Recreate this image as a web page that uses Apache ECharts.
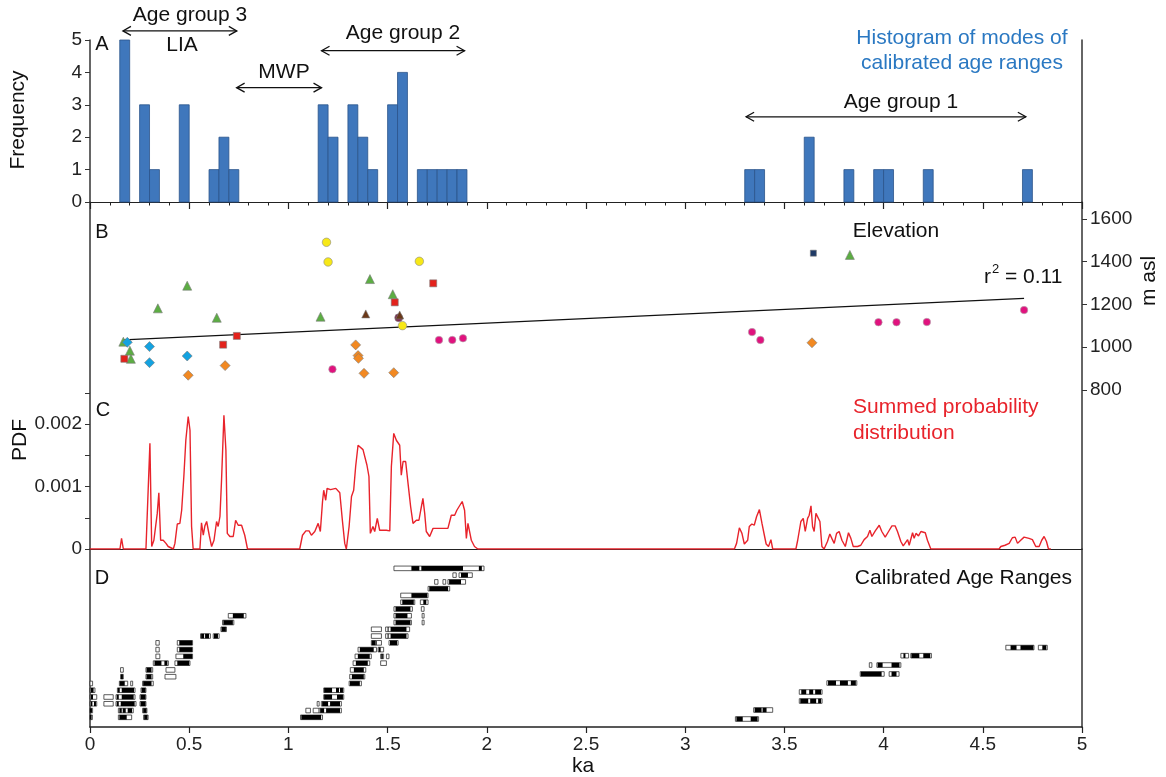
<!DOCTYPE html>
<html>
<head>
<meta charset="utf-8">
<script src="https://cdn.jsdelivr.net/npm/echarts@6/dist/echarts.min.js"></script>
<style>
html,body{margin:0;padding:0;background:#fff;}
#chart{width:1166px;height:777px;}
</style>
</head>
<body>
<div id="chart"></div>
<script>
// ---------------- DATA ----------------
// Panel A: histogram of modes (bin start in ka, 0.05 ka bins)
const binWidth = 0.05;
const histStart = [0.15,0.25,0.30,0.45,0.60,0.65,0.70,1.15,1.20,1.30,1.35,1.40,1.50,1.55,1.65,1.70,1.75,1.80,1.85,3.30,3.35,3.60,3.80,3.95,4.00,4.20,4.70];
const histCount = [5,3,1,3,1,2,1,3,2,3,2,1,3,4,1,1,1,1,1,1,1,2,1,1,1,1,1];

// Age-group arrows in panel A: [from ka, to ka, frequency level]
const arrows = [[0.166,0.74,5.28],[0.739,1.167,3.53],[1.167,1.888,4.67],[3.307,4.717,2.63]];

// Panel B: elevation (ka, m asl)
const greenTri = [[0.168,1026],[0.201,984],[0.206,946],[0.342,1182],[0.49,1288],[0.639,1138],[1.162,1143],[1.411,1319],[1.526,1248],[3.83,1432]];
const brownTri = [[1.39,1156],[1.561,1151]];
const maroonCirc = [[1.556,1138]];
const redSq = [[0.173,946],[0.671,1012],[0.74,1053],[1.536,1210],[1.73,1299]];
const navySq = [[3.646,1440]];
const cyanDia = [[0.188,1023],[0.30,1003],[0.30,928],[0.49,959]];
const orangeDia = [[0.495,869],[0.681,914],[1.339,1011],[1.351,961],[1.353,948],[1.381,878],[1.531,881],[3.639,1021]];
const yellowCirc = [[1.192,1491],[1.20,1399],[1.66,1402],[1.575,1101]];
const magentaCirc = [[1.222,897],[1.759,1034],[1.826,1034],[1.88,1042],[3.337,1071],[3.379,1034],[3.974,1117],[4.065,1117],[4.218,1118],[4.708,1174]];
const trendLine = [[0.168,1034],[4.708,1229]];

// Panel C: summed probability distribution (ka, PDF x 1e-3)
const pdfPoints = [[0,0],[0.151,0],[0.159,0.17],[0.168,0],[0.282,0],[0.302,1.69],[0.311,0.04],[0.322,0.14],[0.339,0.57],[0.347,0.90],[0.356,0.14],[0.369,0.14],[0.383,0.09],[0.394,0.04],[0.42,0],[0.428,0.09],[0.44,0.40],[0.453,0.41],[0.462,0.62],[0.473,1.16],[0.483,1.74],[0.495,2.12],[0.504,1.90],[0.512,0.36],[0.52,0],[0.554,0],[0.562,0.42],[0.571,0.22],[0.579,0.37],[0.588,0.44],[0.601,0.22],[0.613,0.04],[0.625,0.14],[0.638,0.44],[0.646,0.36],[0.655,0.52],[0.663,1.10],[0.675,2.14],[0.685,1.58],[0.692,0.25],[0.705,0.20],[0.722,0.20],[0.734,0.46],[0.747,0.38],[0.764,0.38],[0.78,0.22],[0.794,0],[1.057,0],[1.071,0.22],[1.088,0.29],[1.104,0.29],[1.116,0.22],[1.133,0.28],[1.15,0.41],[1.161,0.28],[1.172,0.76],[1.178,0.94],[1.188,0.78],[1.195,0.97],[1.212,0.95],[1.239,0.97],[1.259,0.90],[1.272,0.46],[1.284,0.09],[1.292,0],[1.306,0.36],[1.318,0.84],[1.329,0.94],[1.339,1.32],[1.351,1.66],[1.376,1.59],[1.396,1.34],[1.406,1.16],[1.413,0.25],[1.426,0.36],[1.435,0.28],[1.448,0.49],[1.46,0.30],[1.494,0.30],[1.511,0.29],[1.519,1.32],[1.531,1.85],[1.544,1.74],[1.561,1.66],[1.569,1.18],[1.578,1.40],[1.591,1.40],[1.603,1.05],[1.616,0.68],[1.628,0.41],[1.645,0.46],[1.658,0.46],[1.667,0.62],[1.678,0.81],[1.687,0.57],[1.695,0.28],[1.712,0.20],[1.729,0.33],[1.762,0.33],[1.804,0.33],[1.821,0.54],[1.838,0.54],[1.849,0.62],[1.876,0.76],[1.888,0.62],[1.897,0.17],[1.905,0.41],[1.913,0.38],[1.922,0.14],[1.938,0.04],[1.955,0],[3.248,0],[3.259,0.09],[3.273,0.34],[3.286,0.25],[3.298,0.08],[3.315,0.14],[3.323,0.36],[3.336,0.40],[3.348,0.38],[3.36,0.52],[3.374,0.63],[3.387,0.41],[3.399,0.22],[3.408,0.08],[3.42,0.04],[3.432,0.15],[3.441,0],[3.558,0],[3.567,0.14],[3.583,0.44],[3.595,0.49],[3.605,0.28],[3.617,0.49],[3.625,0.54],[3.634,0.69],[3.642,0.36],[3.65,0.28],[3.659,0.57],[3.667,0.58],[3.679,0.44],[3.689,0.04],[3.7,0],[3.717,0.12],[3.729,0.24],[3.739,0.17],[3.751,0.09],[3.763,0.25],[3.776,0.28],[3.79,0.14],[3.807,0.04],[3.823,0.26],[3.835,0.17],[3.847,0.04],[3.869,0.04],[3.885,0.06],[3.902,0.15],[3.919,0.20],[3.931,0.30],[3.941,0.20],[3.958,0.29],[3.978,0.38],[3.991,0.28],[4.008,0.19],[4.025,0.28],[4.042,0.37],[4.058,0.37],[4.07,0.28],[4.087,0.12],[4.099,0.05],[4.121,0.15],[4.129,0.06],[4.146,0.26],[4.154,0.17],[4.163,0.25],[4.176,0.21],[4.188,0.28],[4.21,0.26],[4.221,0.14],[4.238,0],[4.582,0],[4.591,0.04],[4.612,0.06],[4.633,0.09],[4.649,0.18],[4.663,0.19],[4.675,0.09],[4.691,0.14],[4.708,0.19],[4.733,0.17],[4.75,0.15],[4.767,0.04],[4.784,0.04],[4.797,0.14],[4.809,0.20],[4.821,0.12],[4.831,0],[4.843,0]];

// Panel D: calibrated age ranges, [start ka, end ka, row]
const rangeBoxes = [
 [0,0.012,0],[0.143,0.21,0],[0.27,0.293,0],
 [0,0.013,1],[0.143,0.218,1],[0.265,0.287,1],
 [0,0.034,2],[0.07,0.117,2],[0.131,0.232,2],[0.252,0.282,2],
 [0,0.034,3],[0.07,0.117,3],[0.131,0.227,3],[0.252,0.282,3],
 [0,0.025,4],[0.138,0.227,4],[0.257,0.282,4],
 [0,0.013,5],[0.148,0.19,5],[0.205,0.215,5],[0.265,0.319,5],
 [0.154,0.168,6],[0.282,0.316,6],[0.378,0.433,6],
 [0.154,0.168,7],[0.282,0.316,7],[0.383,0.428,7],
 [0.319,0.395,8],[0.428,0.504,8],
 [0.332,0.352,9],[0.433,0.517,9],
 [0.332,0.349,10],[0.44,0.517,10],
 [0.332,0.349,11],[0.44,0.517,11],
 [0.557,0.607,12],[0.621,0.651,12],
 [0.66,0.688,13],
 [0.668,0.725,14],
 [0.697,0.786,15],
 [1.061,1.172,0],
 [1.088,1.111,1],[1.125,1.155,1],[1.155,1.267,1],
 [1.145,1.155,2],[1.166,1.267,2],
 [1.178,1.279,3],
 [1.178,1.279,4],
 [1.306,1.368,5],
 [1.309,1.385,6],
 [1.312,1.39,7],
 [1.326,1.41,8],[1.465,1.494,8],
 [1.336,1.418,9],[1.465,1.48,9],[1.494,1.507,9],
 [1.351,1.444,10],[1.452,1.48,10],
 [1.418,1.444,11],[1.444,1.469,11],[1.507,1.553,11],
 [1.418,1.469,12],[1.49,1.603,12],
 [1.418,1.469,13],[1.49,1.611,13],
 [1.532,1.62,14],[1.674,1.684,14],
 [1.532,1.62,15],[1.674,1.684,15],
 [1.532,1.625,16],[1.67,1.684,16],
 [1.566,1.637,17],[1.665,1.704,17],
 [1.566,1.704,18],
 [1.704,1.813,19],
 [1.737,1.754,20],[1.779,1.793,20],[1.804,1.893,20],
 [1.829,1.846,21],[1.86,1.927,21],
 [1.532,1.986,22],
 [3.253,3.37,-0.25],
 [3.345,3.441,1.08],
 [3.575,3.69,2.41],
 [3.575,3.69,3.74],
 [3.714,3.865,5.07],
 [3.882,4.003,6.4],[4.028,4.078,6.4],
 [3.928,3.941,7.72],[3.966,4.087,7.72],
 [4.087,4.126,9.1],[4.137,4.241,9.1],
 [4.616,4.758,10.3],[4.78,4.825,10.3]
];
const rangeFills = [
 [0,0.008,0],[0.148,0.185,0],[0.273,0.29,0],
 [0,0.01,1],[0.148,0.16,1],[0.165,0.18,1],[0.19,0.212,1],[0.268,0.285,1],
 [0.003,0.012,2],[0.02,0.03,2],[0.135,0.145,2],[0.155,0.225,2],[0.255,0.28,2],
 [0.003,0.015,3],[0.135,0.145,3],[0.16,0.22,3],[0.255,0.28,3],
 [0.003,0.018,4],[0.14,0.15,4],[0.16,0.222,4],[0.26,0.28,4],
 [0.15,0.175,5],[0.268,0.31,5],
 [0.156,0.166,6],[0.285,0.31,6],
 [0.285,0.31,7],
 [0.325,0.36,8],[0.375,0.39,8],[0.44,0.50,8],
 [0.47,0.515,9],
 [0.45,0.515,10],
 [0.45,0.515,11],
 [0.56,0.575,12],[0.58,0.6,12],[0.625,0.645,12],
 [0.663,0.685,13],
 [0.672,0.72,14],
 [0.72,0.775,15],
 [1.065,1.165,0],
 [1.16,1.18,1],[1.19,1.26,1],
 [1.17,1.2,2],[1.21,1.26,2],
 [1.18,1.22,3],[1.245,1.275,3],
 [1.18,1.22,4],[1.24,1.255,4],[1.26,1.275,4],
 [1.31,1.36,5],
 [1.32,1.38,6],
 [1.33,1.38,7],
 [1.34,1.4,8],
 [1.35,1.41,9],[1.468,1.476,9],
 [1.36,1.43,10],[1.455,1.465,10],
 [1.42,1.44,11],[1.512,1.548,11],
 [1.5,1.505,12],[1.515,1.595,12],
 [1.5,1.505,13],[1.515,1.595,13],
 [1.54,1.615,14],
 [1.54,1.6,15],
 [1.54,1.615,16],
 [1.574,1.632,17],[1.68,1.695,17],
 [1.62,1.70,18],
 [1.71,1.805,19],
 [1.81,1.87,20],
 [1.87,1.905,21],
 [1.62,1.66,22],[1.67,1.88,22],[1.96,1.975,22],
 [3.258,3.29,-0.25],[3.33,3.365,-0.25],
 [3.35,3.385,1.08],[3.39,3.41,1.08],
 [3.58,3.62,2.41],[3.63,3.66,2.41],[3.67,3.685,2.41],
 [3.585,3.61,3.74],[3.625,3.645,3.74],[3.655,3.685,3.74],
 [3.72,3.76,5.07],[3.78,3.82,5.07],[3.835,3.86,5.07],
 [3.885,3.99,6.4],[4.04,4.065,6.4],
 [3.97,3.995,7.72],[4.04,4.08,7.72],
 [4.1,4.11,9.1],[4.14,4.18,9.1],[4.2,4.235,9.1],
 [4.64,4.67,10.3],[4.69,4.755,10.3],[4.8,4.82,10.3]
];

const kaTicks = [0,0.5,1,1.5,2,2.5,3,3.5,4,4.5,5];
const elevTicks = [800,1000,1200,1400,1600];
const pdfLabelTicks = [0,1,2];

// ---------------- CHART ----------------
const FONT = "'Liberation Sans', Arial, Helvetica, sans-serif";
const AX = '#333';
const chart = echarts.init(document.getElementById('chart'), null, {renderer:'canvas'});

const gridL = 90, gridR = 84;
const grids = [
  {left:gridL, right:gridR, top:40, height:162},
  {left:gridL, right:gridR, top:202, height:190},
  {left:gridL, right:gridR, top:392.75, height:156.25},
  {left:gridL, right:gridR, top:549, height:178}
];

function xAx(i, opts){
  return Object.assign({
    type:'value', gridIndex:i, min:0, max:5, interval:0.5,
    axisLine:{show:false}, axisTick:{show:false}, axisLabel:{show:false},
    splitLine:{show:false}, minorTick:{show:false}
  }, opts||{});
}
function yAx(i, pos, min, max, opts){
  return Object.assign({
    type:'value', gridIndex:i, position:pos, min:min, max:max,
    axisLine:{show:true, onZero:false, lineStyle:{color:AX, width:1.5}},
    axisTick:{show:false}, axisLabel:{show:false}, splitLine:{show:false}
  }, opts||{});
}
const tickLabel = {color:'#222', fontSize:19, fontFamily:FONT};
const plain = function(v){ return String(v); };

function scatterStyle(color, border){
  return {color:color, borderColor:border||'#7a7a7a', borderWidth:0.6, opacity:1};
}

const option = {
  animation:false,
  backgroundColor:'#fff',
  grid: grids,
  xAxis:[
    xAx(0,{axisLine:{show:true, onZero:false, lineStyle:{color:'#222', width:1.2}},
           axisTick:{show:true, length:7, lineStyle:{color:'#222', width:1.2}},
           minorTick:{show:true, splitNumber:5, length:3.5, lineStyle:{color:'#222', width:1}}}),
    xAx(1),
    xAx(2,{axisLine:{show:true, onZero:false, lineStyle:{color:'#222', width:1.2}}}),
    xAx(3,{axisLine:{show:true, onZero:false, lineStyle:{color:'#222', width:1.5}},
           axisTick:{show:true, length:6, lineStyle:{color:'#222', width:1.2}},
           axisLabel:Object.assign({show:true, margin:8, formatter:plain}, tickLabel)})
  ],
  yAxis:[
    yAx(0,'left',0,5,{interval:1, axisTick:{show:true, length:5, lineStyle:{color:AX}},
        axisLabel:Object.assign({show:true, margin:8, formatter:plain}, tickLabel)}),
    yAx(0,'right',0,5),
    yAx(1,'left',790.6,1679.5),
    yAx(1,'right',790.6,1679.5,{
        axisTick:{show:true, length:5, customValues:elevTicks, lineStyle:{color:AX}},
        axisLabel:Object.assign({show:true, margin:8, customValues:elevTicks, formatter:plain}, tickLabel)}),
    yAx(2,'left',0,2.5,{interval:0.5, axisTick:{show:true, length:5, lineStyle:{color:AX}},
        axisLabel:Object.assign({show:true, margin:8, customValues:pdfLabelTicks,
           formatter:function(v){return v===0?'0':(v/1000).toFixed(3);}}, tickLabel)}),
    yAx(2,'right',0,2.5),
    yAx(3,'left',-1.43,24.86),
    yAx(3,'right',-1.43,24.86)
  ],
  series:[
    // Panel A histogram
    {type:'custom', xAxisIndex:0, yAxisIndex:0,
     data: histStart.map((s,i)=>[s,histCount[i]]),
     encode:{x:0,y:1},
     renderItem:function(params, api){
       const x0 = api.value(0), c = api.value(1);
       const p0 = api.coord([x0,0]), p1 = api.coord([x0+binWidth,c]);
       return {type:'rect', shape:{x:p0[0], y:p1[1], width:p1[0]-p0[0], height:p0[1]-p1[1]},
               style:{fill:'#3F77BC', stroke:'#2B548A', lineWidth:0.8}};
     }},
    // Panel A arrows
    {type:'custom', xAxisIndex:0, yAxisIndex:0, clip:false,
     data: arrows, encode:{x:[0,1], y:2},
     renderItem:function(params, api){
       const a = api.coord([api.value(0), api.value(2)]);
       const b = api.coord([api.value(1), api.value(2)]);
       const hl = 8, hw = 4.5;
       const st = {stroke:'#111', lineWidth:1.3, fill:null};
       return {type:'group', children:[
         {type:'line', shape:{x1:a[0], y1:a[1], x2:b[0], y2:b[1]}, style:st},
         {type:'polyline', shape:{points:[[a[0]+hl,a[1]-hw],[a[0],a[1]],[a[0]+hl,a[1]+hw]]}, style:st},
         {type:'polyline', shape:{points:[[b[0]-hl,b[1]-hw],[b[0],b[1]],[b[0]-hl,b[1]+hw]]}, style:st}
       ]};
     }},
    // Panel B
    {type:'line', xAxisIndex:1, yAxisIndex:3, data:trendLine, showSymbol:false, symbol:'none',
     lineStyle:{color:'#111', width:1.3}, z:1},
    {type:'scatter', xAxisIndex:1, yAxisIndex:3, data:greenTri, symbol:'triangle', symbolSize:9,
     itemStyle:scatterStyle('#5CAD43')},
    {type:'scatter', xAxisIndex:1, yAxisIndex:3, data:redSq, symbol:'rect', symbolSize:7,
     itemStyle:scatterStyle('#E3221C')},
    {type:'scatter', xAxisIndex:1, yAxisIndex:3, data:navySq, symbol:'rect', symbolSize:6,
     itemStyle:scatterStyle('#1F3A66')},
    {type:'scatter', xAxisIndex:1, yAxisIndex:3, data:cyanDia, symbol:'diamond', symbolSize:10,
     itemStyle:scatterStyle('#14A2E0')},
    {type:'scatter', xAxisIndex:1, yAxisIndex:3, data:orangeDia, symbol:'diamond', symbolSize:10,
     itemStyle:scatterStyle('#F28922')},
    {type:'scatter', xAxisIndex:1, yAxisIndex:3, data:yellowCirc, symbol:'circle', symbolSize:8.5,
     itemStyle:scatterStyle('#F7E817','#8a8a8a')},
    {type:'scatter', xAxisIndex:1, yAxisIndex:3, data:magentaCirc, symbol:'circle', symbolSize:7.5,
     itemStyle:scatterStyle('#E0127E','#b0b0b0')},
    {type:'scatter', xAxisIndex:1, yAxisIndex:3, data:maroonCirc, symbol:'circle', symbolSize:8,
     itemStyle:scatterStyle('#7E2A4E','#8a8a8a')},
    {type:'scatter', xAxisIndex:1, yAxisIndex:3, data:brownTri, symbol:'triangle', symbolSize:8,
     itemStyle:scatterStyle('#6A3818')},
    // Panel C
    {type:'line', xAxisIndex:2, yAxisIndex:4, data:pdfPoints, showSymbol:false, symbol:'none',
     lineStyle:{color:'#E8232B', width:1.4}},
    // Panel D boxes (2 sigma) and fills (1 sigma)
    {type:'custom', xAxisIndex:3, yAxisIndex:6, data:rangeBoxes, encode:{x:[0,1], y:2},
     renderItem:function(params, api){
       const a = api.coord([api.value(0), api.value(2)]);
       const b = api.coord([api.value(1), api.value(2)]);
       const h = 4.6;
       return {type:'rect', shape:{x:a[0], y:a[1]-h/2, width:Math.max(b[0]-a[0],1.5), height:h},
               style:{fill:'#fff', stroke:'#333', lineWidth:0.8}};
     }},
    {type:'custom', xAxisIndex:3, yAxisIndex:6, data:rangeFills, encode:{x:[0,1], y:2},
     renderItem:function(params, api){
       const a = api.coord([api.value(0), api.value(2)]);
       const b = api.coord([api.value(1), api.value(2)]);
       const h = 4.6;
       return {type:'rect', shape:{x:a[0], y:a[1]-h/2, width:Math.max(b[0]-a[0],1), height:h},
               style:{fill:'#000'}};
     }}
  ],
  graphic:[
    // panel letters
    {type:'text', x:102, y:44, style:{text:'A', fontSize:20, fontFamily:FONT, fill:'#111', align:'center', verticalAlign:'middle'}},
    {type:'text', x:102, y:232, style:{text:'B', fontSize:20, fontFamily:FONT, fill:'#111', align:'center', verticalAlign:'middle'}},
    {type:'text', x:103, y:410, style:{text:'C', fontSize:20, fontFamily:FONT, fill:'#111', align:'center', verticalAlign:'middle'}},
    {type:'text', x:102, y:578, style:{text:'D', fontSize:20, fontFamily:FONT, fill:'#111', align:'center', verticalAlign:'middle'}},
    // annotations panel A
    {type:'text', x:190, y:15, style:{text:'Age group 3', fontSize:21, fontFamily:FONT, fill:'#111', align:'center', verticalAlign:'middle'}},
    {type:'text', x:182, y:45, style:{text:'LIA', fontSize:21, fontFamily:FONT, fill:'#111', align:'center', verticalAlign:'middle'}},
    {type:'text', x:284, y:72, style:{text:'MWP', fontSize:21, fontFamily:FONT, fill:'#111', align:'center', verticalAlign:'middle'}},
    {type:'text', x:403, y:33, style:{text:'Age group 2', fontSize:21, fontFamily:FONT, fill:'#111', align:'center', verticalAlign:'middle'}},
    {type:'text', x:901, y:102, style:{text:'Age group 1', fontSize:21, fontFamily:FONT, fill:'#111', align:'center', verticalAlign:'middle'}},
    {type:'text', x:962, y:38, style:{text:'Histogram of modes of', fontSize:21, fontFamily:FONT, fill:'#2A78C2', align:'center', verticalAlign:'middle'}},
    {type:'text', x:962, y:63, style:{text:'calibrated age ranges', fontSize:21, fontFamily:FONT, fill:'#2A78C2', align:'center', verticalAlign:'middle'}},
    // panel B
    {type:'text', x:896, y:231, style:{text:'Elevation', fontSize:21, fontFamily:FONT, fill:'#111', align:'center', verticalAlign:'middle'}},
    {type:'text', x:991, y:277, style:{text:'r', fontSize:21, fontFamily:FONT, fill:'#111', align:'right', verticalAlign:'middle'}},
    {type:'text', x:992, y:269, style:{text:'2', fontSize:13, fontFamily:FONT, fill:'#111', align:'left', verticalAlign:'middle'}},
    {type:'text', x:1005, y:277, style:{text:'= 0.11', fontSize:21, fontFamily:FONT, fill:'#111', align:'left', verticalAlign:'middle'}},
    // panel C
    {type:'text', x:853, y:407, style:{text:'Summed probability', fontSize:21, fontFamily:FONT, fill:'#E8232B', align:'left', verticalAlign:'middle'}},
    {type:'text', x:853, y:433, style:{text:'distribution', fontSize:21, fontFamily:FONT, fill:'#E8232B', align:'left', verticalAlign:'middle'}},
    // panel D
    {type:'text', x:1072, y:578, style:{text:'Calibrated Age Ranges', fontSize:21, fontFamily:FONT, fill:'#111', align:'right', verticalAlign:'middle'}},
    // axis titles
    {type:'text', x:18, y:120, rotation:Math.PI/2, style:{text:'Frequency', fontSize:21, fontFamily:FONT, fill:'#111', align:'center', verticalAlign:'middle'}},
    {type:'text', x:20, y:440, rotation:Math.PI/2, style:{text:'PDF', fontSize:21, fontFamily:FONT, fill:'#111', align:'center', verticalAlign:'middle'}},
    {type:'text', x:1149, y:281, rotation:Math.PI/2, style:{text:'m asl', fontSize:21, fontFamily:FONT, fill:'#111', align:'center', verticalAlign:'middle'}},
    {type:'text', x:583, y:766, style:{text:'ka', fontSize:21, fontFamily:FONT, fill:'#111', align:'center', verticalAlign:'middle'}}
  ]
};
chart.setOption(option);
</script>
</body>
</html>
